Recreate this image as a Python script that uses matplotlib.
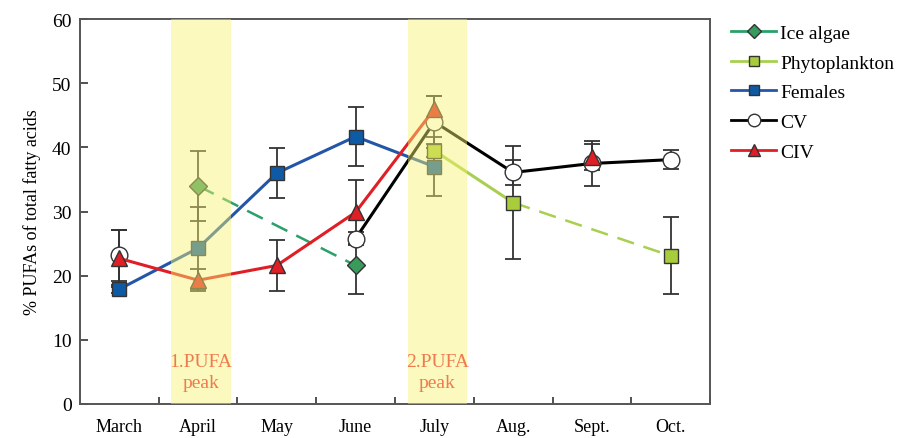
import numpy as np
import matplotlib.pyplot as plt
from matplotlib.lines import Line2D

plt.rcParams["font.family"] = ["Liberation Serif", "DejaVu Serif"]

months = ["March", "April", "May", "June", "July", "Aug.", "Sept.", "Oct."]
nan = np.nan

ice_algae = [nan, 34.0, nan, 21.6, nan, nan, nan, nan]
ice_algae_err = [0, 5.4, 0, 4.5, 0, 0, 0, 0]

phyto = [nan, nan, nan, nan, 39.5, 31.4, nan, 23.1]
phyto_err = [0, 0, 0, 0, 1.0, 8.8, 0, 6.0]

females = [17.9, 24.3, 36.0, 41.7, 37.0, nan, nan, nan]
females_err = [0.6, 6.4, 3.9, 4.6, 4.6, 0, 0, 0]

cv = [23.2, nan, nan, 25.8, 44.0, 36.1, 37.5, 38.1]
cv_err = [4.0, 0, 0, 1.0, 4.1, 2.0, 3.5, 1.5]

civ = [22.7, 19.3, 21.6, 29.9, 46.0, nan, 38.5, nan]
civ_err = [4.4, 1.7, 4.0, 5.0, 2.0, 0, 2.0, 0]

peaks = [1, 4]
peak_labels = ["1.PUFA\npeak", "2.PUFA\npeak"]

x = np.arange(len(months))

fig = plt.figure(figsize=(9.08, 4.39), dpi=100)
ax = fig.add_axes([0.088, 0.0775, 0.694, 0.8765])

series = [
    # label, values, errors, line colour, marker, face colour, size
    ("Ice algae", ice_algae, ice_algae_err, "#2aa06a", "D", "#3a9a5c", 9),
    ("Phytoplankton", phyto, phyto_err, "#a8d050", "s", "#a8cc3c", 10),
    ("Females", females, females_err, "#2356a8", "s", "#0f5aa5", 10),
    ("CV", cv, cv_err, "black", "o", "white", 12),
    ("CIV", civ, civ_err, "#e01e25", "^", "#e01e25", 11),
]

for label, vals, errs, col, mk, fc, ms in series:
    vals = np.array(vals)
    errs = np.array(errs)
    ok = ~np.isnan(vals) & (errs > 0)
    ax.errorbar(x[ok], vals[ok], yerr=errs[ok], fmt="none", ecolor="#333333",
                elinewidth=1.3, capsize=6, capthick=1.3, zorder=2)

# dashed gaps for ice algae and phytoplankton
ax.plot([1, 3], [ice_algae[1], ice_algae[3]], color="#2aa06a", lw=1.8,
        ls=(0, (7, 4)), zorder=3)
ax.plot([5, 7], [phyto[5], phyto[7]], color="#a8d050", lw=1.8,
        ls=(0, (7, 4)), zorder=3)

handles = []
for label, vals, errs, col, mk, fc, ms in series:
    if label == "Ice algae":
        ax.plot(x, vals, ls="none", marker=mk, ms=ms, mfc=fc, mec="#333333",
                mew=1.0, zorder=4)
    else:
        ax.plot(x, vals, color=col, lw=2.2, marker=mk, ms=ms, mfc=fc,
                mec="#333333", mew=1.0, zorder=4)
    handles.append(Line2D([], [], color=col, lw=2.0, ls="-", marker=mk,
                          ms=ms * 0.75, mfc=fc, mec="#333333", mew=1.0))

for p, txt in zip(peaks, peak_labels):
    ax.axvspan(p - 0.34, p + 0.42, color="#f8f36e", alpha=0.45, lw=0, zorder=5)
    ax.text(p + 0.04, 5.0, txt, color="#f07a50", fontsize=14, ha="center",
            va="center", linespacing=1.35, zorder=6)

ax.set_xlim(-0.5, 7.5)
ax.set_ylim(0, 60)
ax.set_yticks(range(0, 61, 10))
ax.set_xticks(x + 0.5, minor=False)
ax.set_xticklabels([])
ax.set_xticks(x, minor=True)
ax.set_xticklabels(months, minor=True, fontsize=13)
ax.tick_params(axis="x", which="minor", length=0, pad=10)
ax.tick_params(axis="x", which="major", direction="in", length=5, width=1.2,
               color="#333333")
ax.tick_params(axis="y", direction="in", length=6, width=1.2, color="#333333",
               labelsize=14, pad=6)
for s in ax.spines.values():
    s.set_color("#555555")
    s.set_linewidth(1.4)
ax.set_ylabel("% PUFAs of total fatty acids", fontsize=13, labelpad=8)

fig.legend(handles, [s[0] for s in series], loc="upper left",
           bbox_to_anchor=(0.797, 0.96), frameon=False, fontsize=14,
           handlelength=2.3, handletextpad=0.2, labelspacing=0.62,
           borderaxespad=0)

fig.savefig("out.png", dpi=100)
